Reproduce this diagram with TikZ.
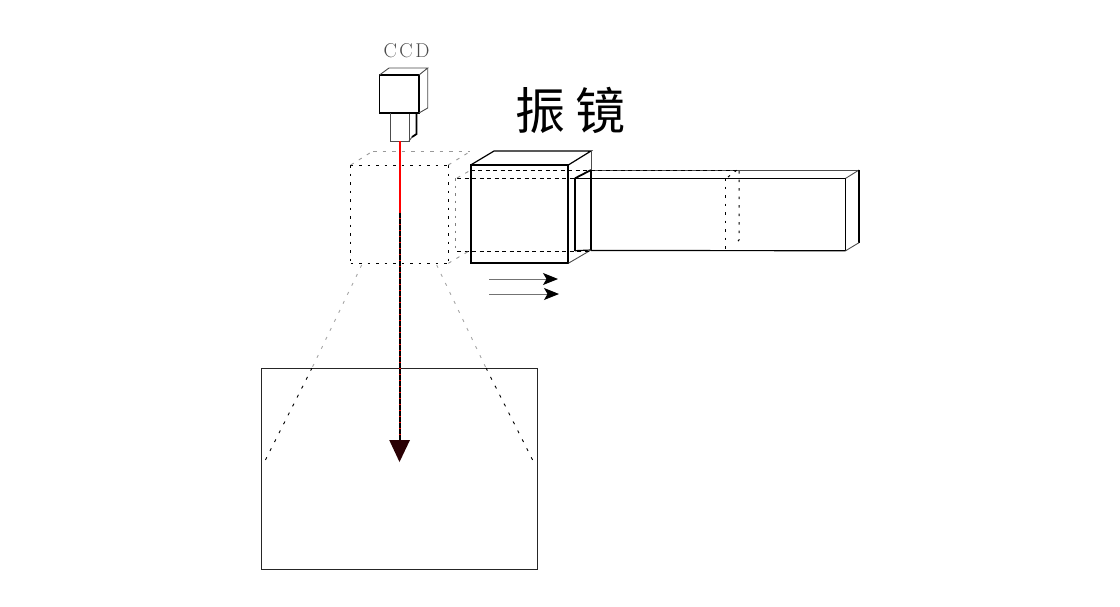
\documentclass[tikz,border=0pt]{standalone}
\usepackage{fontspec}
\newfontfamily\cjk{Noto Sans CJK SC}
\usetikzlibrary{arrows.meta}
\definecolor{tipdark}{HTML}{2A0004}
\tikzset{
  solid line/.style={draw=black,line width=1.2pt,line join=miter},
  heavy line/.style={draw=black,line width=1.8pt},
  thin line/.style={draw=black!70,line width=0.9pt},
  dark dash/.style={draw=black,line width=1pt,dash pattern=on 4pt off 3.5pt},
  dark dots/.style={draw=black,line width=1pt,dash pattern=on 2.5pt off 6pt},
  pale dash/.style={draw=black!40,line width=0.9pt,dash pattern=on 3.5pt off 6pt},
  pale dots/.style={draw=black!50,line width=1pt,dash pattern=on 2.5pt off 5pt},
  ray dark/.style={draw=black,line width=0.9pt,dash pattern=on 3pt off 7pt},
  ray pale/.style={draw=black!35,line width=0.9pt,dash pattern=on 3pt off 7pt},
  motion/.style={draw=black!55,line width=1pt,-{Stealth[length=15pt,width=12pt,inset=3.5pt,color=black]}},
}
\begin{document}
\begin{tikzpicture}[x=1pt,y=-1pt]
\useasboundingbox (0,0) rectangle (1120,606);
\fill[white] (0,0) rectangle (1120,606);

% labels
\node[inner sep=0pt,text=black!70,font=\fontsize{20}{20}\selectfont] (ccdlabel) at (406.5,51) {C\kern2.5pt C\kern2.5pt D};
\node[inner sep=0pt,font=\cjk\fontsize{50}{50}\selectfont] (mirrorlabel) at (570.5,110) {振\hspace{10pt}镜};

% CCD camera
\draw[solid line,line width=1.8pt] (379.5,75) rectangle (419,113);
\draw[thin line] (379.5,75) -- (389,68) -- (427.7,68) -- (419,75);
\draw[thin line] (427.7,68) -- (427.7,108) -- (419,113);
\draw[thin line] (390.7,113) -- (390.7,141) -- (409,141) -- (409,113);
\draw[heavy line] (390.7,113.3) -- (417,113.3);
\draw[heavy line] (416.5,113) -- (416.5,134) -- (412,137);
\draw[thin line] (412,137) -- (409,141);

% long mirror arm
\draw[thin line] (591,170) -- (859,170);
\draw[dark dash] (470.5,170) -- (739,170);
\draw[solid line] (575,178.3) -- (845.7,178.3);
\draw[solid line] (575,178.3) -- (575,250.7);
\draw[solid line] (845.7,178.3) -- (845.7,250.7);
\draw[solid line] (591,250.5) -- (845.7,250.7);
\draw[solid line] (575,250.7) -- (591,250);
\draw[solid line] (591,170) -- (591,250);
\draw[heavy line] (575,178.3) -- (591,170);
\draw[thin line] (845.7,178.3) -- (859,170);
\draw[solid line] (859,170) -- (859,242.7);
\draw[thin line] (845.7,250.7) -- (859,242.7);
\draw[dark dots] (725,178) -- (725,250);
\draw[dark dots] (739,171) -- (739,240) -- (735.5,244);
\draw[dark dots] (728,177) -- (737,170);

% solid front cube
\draw[solid line,line width=1.8pt] (470.7,165) rectangle (568.3,263.3);
\draw[solid line] (470.7,165) -- (494,151) -- (591,151) -- (568.3,165);
\draw[thin line] (591,151) -- (591,170);
\draw[thin line] (568.3,263.3) -- (591,250);
\draw[dark dash] (457,178.3) -- (575,178.3);
\draw[dark dash] (457,251) -- (591,251);

% dotted cube
\draw[dark dots] (350.7,165) -- (448.3,165);
\draw[dark dots] (350.7,165) -- (350.7,263.3);
\draw[dark dots] (448.3,165) -- (448.3,263.3);
\draw[dark dots] (350.7,263.3) -- (448.3,263.3);
\draw[pale dash] (373,151) -- (470,151);
\draw[pale dash] (350.7,165) -- (373,151);
\draw[pale dash] (448.3,165) -- (471,151);
\draw[pale dash] (457,178) -- (471,170);
\draw[pale dash] (448.3,263.3) -- (470.7,250);
\draw[pale dots] (455,178) -- (455,250);

% work area
\draw[draw=black!85,line width=1pt] (261,368) rectangle (537.3,569.3);

% rays
\coordinate (leftTop) at (361.7,265);
\coordinate (leftIn) at (312,368);
\coordinate (leftEnd) at (264,462.7);
\coordinate (rightTop) at (436.7,265);
\coordinate (rightIn) at (486,368);
\coordinate (rightEnd) at (534,462.7);
\draw[ray pale] (leftTop) -- (leftIn);
\draw[ray dark] (leftIn) -- (leftEnd);
\draw[ray pale] (rightTop) -- (rightIn);
\draw[ray dark] (rightIn) -- (rightEnd);

% motion arrows
\coordinate (m1a) at (489,279);
\coordinate (m1b) at (558,279);
\coordinate (m2a) at (489,294);
\coordinate (m2b) at (559,294);
\draw[motion] (m1a) -- (m1b);
\draw[motion] (m2a) -- (m2b);

% beam
\fill[red] (398.7,141) rectangle (400.5,441);
\foreach \segtop in {213,219,...,435}{
  \fill[black] (398.6,\segtop) rectangle (400.6,\segtop+5);
}
\coordinate (beamTip) at (399.5,462);
\fill[tipdark] (389.2,440) -- (410,440) -- (beamTip) -- cycle;
\end{tikzpicture}
\end{document}
